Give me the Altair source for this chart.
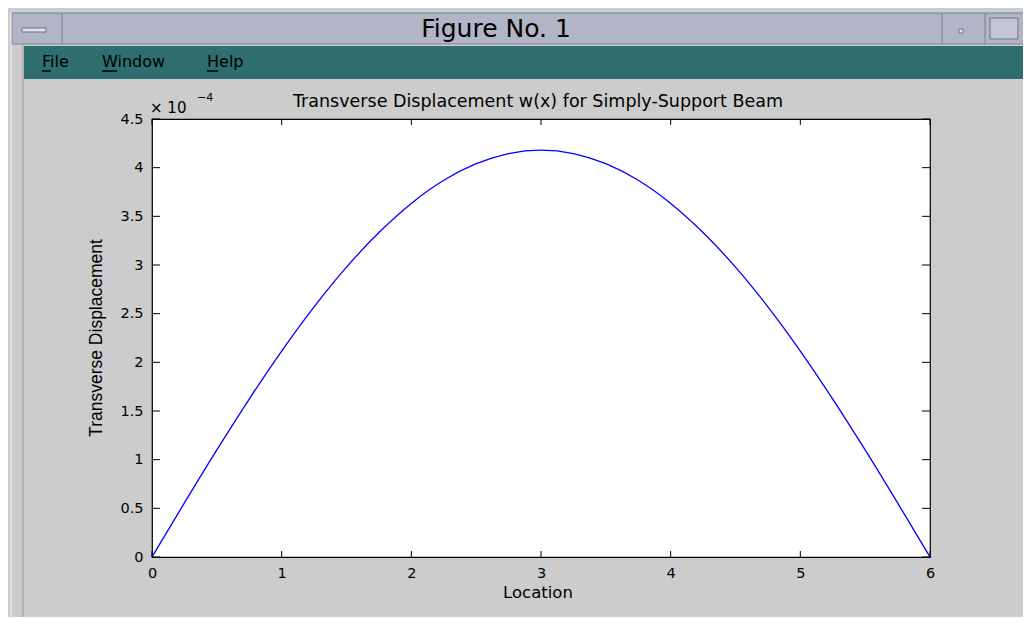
import altair as alt
import pandas as pd

# ---- data (displacement in units of 1e-4) ----
location = [0.0, 0.25, 0.5, 0.75, 1.0, 1.25, 1.5, 1.75, 2.0, 2.25, 2.5, 2.75, 3.0,
            3.25, 3.5, 3.75, 4.0, 4.25, 4.5, 4.75, 5.0, 5.25, 5.5, 5.75, 6.0]
displacement_e4 = [0.0, 0.556, 1.100, 1.623, 2.116, 2.570, 2.978, 3.334, 3.633, 3.870, 4.041, 4.145, 4.180,
                   4.145, 4.041, 3.870, 3.633, 3.334, 2.978, 2.570, 2.116, 1.623, 1.100, 0.556, 0.0]
x_ticks = [0, 1, 2, 3, 4, 5, 6]
y_ticks_e4 = [0, 0.5, 1, 1.5, 2, 2.5, 3, 3.5, 4, 4.5]


def e4(v):
    return round(v * 1e-4, 12)


df = pd.DataFrame({"x": location, "w": [e4(v) for v in displacement_e4]})
y_vals = [e4(v) for v in y_ticks_e4]
xt = pd.DataFrame({"x": x_ticks})
yt = pd.DataFrame({"w": y_vals})

W, H = 778, 438          # plot area
OX, OY = 152, 119        # plot origin in screenshot coordinates
FONT = "DejaVu Sans"

xscale = alt.Scale(domain=[0, 6], nice=False, zero=False)
yscale = alt.Scale(domain=[0, e4(4.5)], nice=False, zero=False)
xaxis = alt.Axis(values=x_ticks, title=None, grid=False, domain=False, ticks=False,
                 tickSize=0, labelPadding=9, labelFont=FONT, labelFontSize=14.5,
                 labelColor="black", labelFlush=False, labelOverlap=False)
yaxis = alt.Axis(values=y_vals, title=None, grid=False,
                 domain=False, ticks=False, tickSize=0, labelPadding=9,
                 labelFont=FONT, labelFontSize=14.5, labelColor="black",
                 labelFlush=False, labelOverlap=False,
                 labelExpr="format(datum.value * 10000, '~g')")
X = alt.X("x:Q", scale=xscale, axis=xaxis)
Y = alt.Y("w:Q", scale=yscale, axis=yaxis)
one = alt.Data(values=[{}])


def rect(x1, y1, x2, y2, fill, stroke=None, sw=1):
    kw = dict(fill=fill)
    if stroke:
        kw.update(stroke=stroke, strokeWidth=sw)
    return alt.Chart(one).mark_rect(**kw).encode(
        x=alt.value(x1 - OX), x2=alt.value(x2 - OX),
        y=alt.value(y1 - OY), y2=alt.value(y2 - OY))


def hline(x1, x2, y, color, sw=1):
    return alt.Chart(one).mark_rule(color=color, strokeWidth=sw).encode(
        x=alt.value(x1 - OX), x2=alt.value(x2 - OX), y=alt.value(y - OY))


def vline(x, y1, y2, color, sw=1):
    return alt.Chart(one).mark_rule(color=color, strokeWidth=sw).encode(
        x=alt.value(x - OX), y=alt.value(y1 - OY), y2=alt.value(y2 - OY))


def label(txt, x, y, size, align="left", angle=0, font=FONT, color="black", baseline="alphabetic"):
    kw = dict(font=font, fontSize=size, align=align, baseline=baseline, color=color)
    if angle:
        kw["angle"] = angle
    return alt.Chart(one).mark_text(**kw).encode(
        x=alt.value(x - OX), y=alt.value(y - OY), text=alt.value(txt))


# ---- window chrome ----
chrome = [
    rect(0, 0, 1031, 12, "#c8ccd8"),
    rect(12, 13, 1024, 44, "#b1b5c5", "#7d8190"),
    vline(62, 13, 44, "#7d8190"),
    vline(942, 13, 44, "#7d8190"),
    vline(985, 13, 44, "#7d8190"),
    rect(22, 28, 46, 32, "#dfe2ec", "#6f7380"),
    rect(959, 29, 963, 33, "#e6e8ef", "#70737f"),
    rect(990, 18, 1018, 39, "#c2c6d4", "#6f7380"),
    rect(24, 46, 1027, 79, "#2f6e6e"),
    vline(11, 12, 625, "#eeeeee"),
    vline(23, 44, 625, "#9a9a9a"),
    vline(1028, 44, 625, "#eeeeee"),
    label("Figure No. 1", 496, 37, 25, align="center"),
    label("File", 42, 67, 16),
    label("Window", 102, 67, 16),
    label("Help", 207, 67, 16),
    hline(42, 51, 71, "black", 1.5),
    hline(102, 117, 71, "black", 1.5),
    hline(207, 218, 71, "black", 1.5),
]

# ---- plot ----
line = alt.Chart(df).mark_line(color="#0000ff", strokeWidth=1.3, interpolate="monotone").encode(
    x=X, y=Y)

xt_bottom = alt.Chart(xt).mark_rule(color="black").encode(
    x=X, y=alt.value(H), y2=alt.value(H - 6))
xt_top = alt.Chart(xt).mark_rule(color="black").encode(
    x=X, y=alt.value(0), y2=alt.value(6))
yt_left = alt.Chart(yt).mark_rule(color="black").encode(
    y=Y, x=alt.value(0), x2=alt.value(8))
yt_right = alt.Chart(yt).mark_rule(color="black").encode(
    y=Y, x=alt.value(W - 8), x2=alt.value(W))

texts = [
    label("Transverse Displacement w(x) for Simply-Support Beam", 538, 107, 17.5, align="center"),
    label("× 10", 150, 113, 15),
    label("−4", 197, 101, 11),
    label("Location", 538, 598, 16.5, align="center"),
    label("Transverse Displacement", 102, OY + H / 2, 17.5, align="center", angle=270,
          font="Liberation Sans"),
]

chart = alt.layer(*chrome, line, xt_bottom, xt_top, yt_left, yt_right, *texts).properties(
    width=W, height=H,
    padding={"left": OX - 8, "top": OY - 8, "right": 1015 - (OX - 8) - W, "bottom": 609 - (OY - 8) - H},
    autosize=alt.AutoSizeParams(type="none"),
    background="#cccccc",
).configure_view(fill="white", stroke="black", strokeWidth=1.2)

chart.save("out.html", embed_options={"renderer": "svg", "actions": False})
